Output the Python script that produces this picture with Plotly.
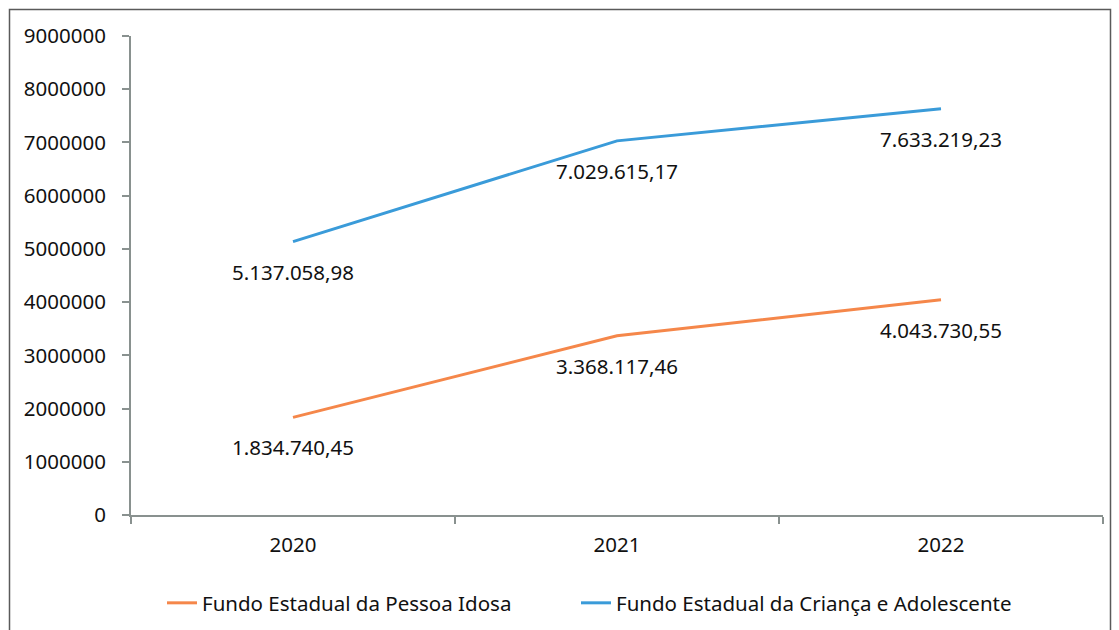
import plotly.graph_objects as go

years = ["2020", "2021", "2022"]
idosa = [1834740.45, 3368117.46, 4043730.55]
crianca = [5137058.98, 7029615.17, 7633219.23]
series_names = ["Fundo Estadual da Pessoa Idosa", "Fundo Estadual da Criança e Adolescente"]
y_ticks = [0, 1000000, 2000000, 3000000, 4000000, 5000000, 6000000, 7000000, 8000000, 9000000]

ORANGE = "#F5874A"
BLUE = "#3A9BD9"
AXIS = "#89918F"
FONT = "Noto Sans"
FS = 20.5


def br(v):
    s = f"{v:,.2f}"
    return s.replace(",", "X").replace(".", ",").replace("X", ".")


fig = go.Figure()
fig.add_trace(go.Scatter(x=years, y=idosa, mode="lines", name=series_names[0],
                         line=dict(color=ORANGE, width=3), legend="legend"))
fig.add_trace(go.Scatter(x=years, y=crianca, mode="lines", name=series_names[1],
                         line=dict(color=BLUE, width=3), legend="legend2"))

for ser in (idosa, crianca):
    for i, yv in enumerate(ser):
        fig.add_annotation(x=i, y=yv, xref="x", yref="y", text=br(yv), showarrow=False,
                           yshift=-30, font=dict(family=FONT, size=FS, color="#111111"))

W, H = 1119, 630
L, R, T, B = 131, 16, 36, 115
pw, ph = W - L - R, H - T - B


def px(xp):
    return (xp - L) / pw


def py(yp):
    return (H - B - yp) / ph


fig.add_shape(type="rect", xref="paper", yref="paper",
              x0=px(9.5), x1=px(1110.5), y0=py(660), y1=py(9.5),
              line=dict(color="#5a5a5a", width=1.5), fillcolor="rgba(0,0,0,0)", layer="below")

legend_common = dict(orientation="h", xanchor="left", yanchor="middle", y=py(603),
                     font=dict(family=FONT, size=FS, color="#111111"),
                     bgcolor="rgba(0,0,0,0)")

fig.update_layout(
    width=W, height=H,
    margin=dict(l=L, r=R, t=T, b=B, autoexpand=False),
    paper_bgcolor="white", plot_bgcolor="white",
    font=dict(family=FONT, size=FS, color="#111111"),
    showlegend=True,
    legend=dict(x=px(162), **legend_common),
    legend2=dict(x=px(576), **legend_common),
    xaxis=dict(type="category", range=[-0.5, 2.5], showgrid=False, showline=True,
               linecolor=AXIS, linewidth=2, ticks="outside", tickson="boundaries",
               ticklen=7, tickcolor=AXIS, tickwidth=2, ticklabelstandoff=10,
               tickfont=dict(family=FONT, size=FS, color="#111111"), zeroline=False),
    yaxis=dict(range=[0, 9000000], tickvals=y_ticks, ticktext=[str(v) for v in y_ticks],
               showgrid=False, showline=True, linecolor=AXIS, linewidth=2,
               ticks="outside", ticklen=7, tickcolor=AXIS, tickwidth=2, ticklabelstandoff=12,
               tickfont=dict(family=FONT, size=FS, color="#111111"), zeroline=False),
)

fig.write_html("out.html", config={"displayModeBar": False},
               post_script="document.body.style.margin='0px';")
